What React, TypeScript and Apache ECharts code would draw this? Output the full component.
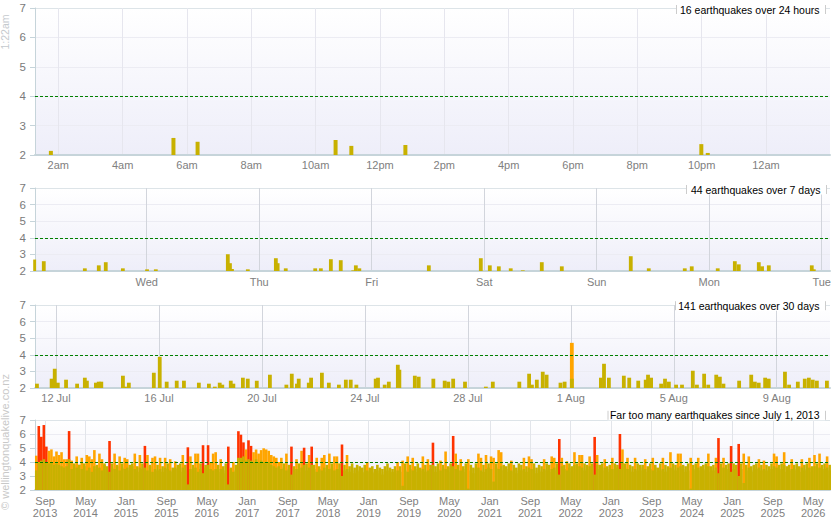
import React, { useEffect, useRef } from "react";
import * as echarts from "echarts";

const OLIVE = "#c8b100";
const ORANGE = "#ffa500";
const RED = "#ff3300";
const GREEN = "#008000";
const AXIS = "#c6d4da";
const FONT = '"Liberation Sans", Arial, sans-serif';

// ---- Panel 1: last 24 hours (x = hours since midnight of first day) ----
const dayTimes = [1.77, 5.58, 6.33, 10.62, 11.11, 12.79, 21.99, 22.19];
const dayMags = [2.14, 2.58, 2.45, 2.51, 2.31, 2.34, 2.37, 2.07];
const dayTickValues = [2, 4, 6, 8, 10, 12, 14, 16, 18, 20, 22, 24];
const dayTickLabels = ["2am", "4am", "6am", "8am", "10am", "12pm", "2pm", "4pm", "6pm", "8pm", "10pm", "12am"];

// ---- Panel 2: last 7 days (x = days since Tuesday 00:00) ----
const weekTimes = [0.0, 0.085, 0.45, 0.574, 0.636, 0.788, 1.003, 1.081, 1.721, 1.74, 1.758, 1.899, 2.148, 2.164, 2.236, 2.498, 2.548, 2.637, 2.725, 2.836, 2.859, 2.89, 3.508, 3.97, 4.05, 4.13, 4.236, 4.343, 4.512, 4.69, 5.303, 5.463, 5.783, 5.845, 6.076, 6.228, 6.263, 6.441, 6.47, 6.53, 6.912, 6.93];
const weekMags = [2.69, 2.59, 2.16, 2.34, 2.53, 2.16, 2.1, 2.1, 3.01, 2.47, 2.12, 2.1, 2.77, 2.47, 2.16, 2.16, 2.16, 2.71, 2.65, 2.04, 2.34, 2.16, 2.34, 2.77, 2.34, 2.28, 2.16, 2.04, 2.53, 2.28, 2.89, 2.16, 2.16, 2.28, 2.16, 2.59, 2.4, 2.53, 2.28, 2.34, 2.34, 2.1];
const weekTickValues = [1, 2, 3, 4, 5, 6, 7];
const weekTickLabels = ["Wed", "Thu", "Fri", "Sat", "Sun", "Mon", "Tue"];

// ---- Panel 3: last 30 days (x = day of July, Aug 1 = 32) ----
const monthTimes = [11.26, 11.83, 11.95, 12.07, 12.39, 12.82, 13.12, 13.2, 13.55, 13.66, 13.76, 14.6, 14.68, 14.83, 15.8, 16.03, 16.3, 16.69, 16.97, 17.55, 17.94, 18.17, 18.36, 18.46, 18.79, 18.89, 19.26, 19.45, 19.8, 20.31, 20.95, 21.16, 21.36, 21.43, 21.82, 21.91, 22.33, 22.6, 22.99, 23.26, 23.45, 23.67, 24.42, 24.51, 24.77, 24.93, 25.28, 25.34, 25.94, 26.09, 26.66, 27.1, 27.24, 27.43, 27.89, 28.7, 28.97, 30.0, 30.38, 30.49, 30.68, 30.91, 31.06, 31.6, 31.76, 32.04, 32.04, 33.17, 33.29, 33.48, 34.06, 34.27, 34.62, 34.91, 35.0, 35.12, 35.51, 35.66, 35.81, 36.09, 36.32, 36.74, 36.9, 37.18, 37.34, 37.65, 37.79, 37.93, 38.54, 39.01, 39.15, 39.3, 39.55, 39.69, 40.32, 40.48, 40.82, 41.09, 41.25, 41.4, 41.56, 41.95];
const monthMags = [2.26, 2.56, 3.16, 2.32, 2.5, 2.26, 2.62, 2.44, 2.32, 2.38, 2.38, 2.74, 2.08, 2.32, 2.92, 3.88, 2.38, 2.44, 2.44, 2.32, 2.26, 2.08, 2.32, 2.2, 2.44, 2.26, 2.62, 2.56, 2.44, 2.8, 2.2, 2.86, 2.26, 2.56, 2.32, 2.62, 2.92, 2.32, 2.2, 2.5, 2.5, 2.2, 2.56, 2.62, 2.2, 2.38, 3.4, 3.1, 2.74, 2.68, 2.56, 2.44, 2.38, 2.56, 2.38, 2.08, 2.38, 2.38, 2.86, 2.2, 2.5, 2.98, 2.8, 2.32, 2.38, 4.72, 2.56, 2.62, 3.46, 2.62, 2.74, 2.62, 2.44, 2.5, 2.8, 2.62, 2.26, 2.56, 2.38, 2.2, 2.2, 3.04, 2.2, 2.86, 2.2, 2.8, 2.68, 2.26, 2.44, 2.8, 2.38, 2.32, 2.62, 2.56, 2.98, 2.2, 2.38, 2.56, 2.62, 2.5, 2.44, 2.44];
const monthTickValues = [12, 16, 20, 24, 28, 32, 36, 40];
const monthTickLabels = ["12 Jul", "16 Jul", "20 Jul", "24 Jul", "28 Jul", "1 Aug", "5 Aug", "9 Aug"];

// ---- Panel 4: since July 1, 2013, half-month buckets (peak and typical level) ----
const longPeak = [
  4.45, 6.57, 5.8, 6.64, 5.1, 4.8, 4.9, 4.4, 4.75, 4.5, 4.7, 4.2,
  4.2, 6.21, 4.1, 3.9, 4.4, 3.8, 4.3, 3.9, 4.5, 4.4, 4.2, 4.85,
  3.8, 4.6, 4.2, 3.9, 3.7, 5.5, 3.9, 4.6, 3.8, 4.4, 3.9, 4.3,
  4.2, 3.8, 3.9, 4.6, 3.7, 4.5, 3.9, 5.15, 4.5, 3.8, 4.3, 4.4,
  3.8, 4.3, 3.7, 4.3, 3.9, 4.2, 3.6, 4.05, 3.8, 3.9, 4.5, 3.8,
  5.05, 4.4, 3.8, 4.6, 4.6, 3.9, 5.2, 3.8, 5.2, 4.0, 4.6, 4.7,
  3.8, 4.2, 3.7, 3.9, 5.1, 3.6, 4.0, 3.8, 6.2, 5.95, 5.4, 4.9,
  5.55, 5.15, 4.7, 4.9, 4.6, 4.85, 4.98, 4.9, 4.8, 4.5, 4.4, 4.3,
  4.0, 4.3, 3.9, 4.6, 3.8, 5.1, 3.7, 4.2, 3.9, 4.8, 5.02, 3.9,
  4.5, 5.1, 3.8, 4.3, 3.7, 4.3, 4.5, 3.8, 4.6, 3.9, 4.4, 4.4,
  3.9, 5.25, 3.8, 4.5, 3.7, 3.9, 3.6, 3.8, 3.7, 3.6, 3.8, 4.0,
  3.6, 3.7, 3.5, 3.8, 3.6, 3.5, 3.7, 3.9, 3.6, 3.5, 3.7, 4.0,
  3.7, 4.1, 3.9, 4.4, 3.8, 4.3, 3.7, 3.9, 3.6, 4.4, 3.8, 4.2,
  3.8, 5.38, 3.7, 3.9, 4.1, 3.8, 4.75, 3.7, 3.9, 5.86, 4.6, 3.8,
  4.2, 3.7, 3.9, 4.2, 3.8, 3.6, 3.9, 4.6, 4.3, 3.8, 4.5, 3.9,
  4.4, 4.3, 3.9, 4.85, 4.7, 3.8, 3.7, 3.9, 4.1, 3.8, 3.6, 3.9,
  3.8, 4.3, 3.7, 4.4, 4.2, 3.9, 3.6, 3.8, 3.7, 4.2, 3.9, 3.8,
  4.4, 4.3, 3.9, 5.64, 4.3, 3.8, 4.05, 3.9, 3.7, 4.7, 3.9, 4.5,
  4.5, 3.9, 3.8, 4.4, 3.9, 5.79, 4.5, 3.8, 3.9, 4.2, 3.7, 3.8,
  4.3, 3.9, 3.8, 6.0, 4.9, 3.9, 4.3, 3.8, 3.7, 4.3, 3.9, 3.8,
  3.8, 4.2, 3.7, 3.9, 4.3, 3.8, 3.6, 3.9, 4.3, 3.8, 3.7, 4.7,
  3.9, 3.8, 4.6, 4.6, 3.8, 3.7, 3.9, 4.3, 3.8, 3.9, 4.3, 3.7,
  3.8, 3.9, 4.6, 3.7, 3.8, 4.3, 5.71, 3.9, 4.3, 3.8, 3.9, 5.14,
  3.9, 3.8, 5.29, 3.9, 4.6, 3.8, 4.4, 3.7, 3.8, 3.9, 4.2, 3.8,
  4.1, 3.8, 3.7, 3.9, 4.6, 4.4, 3.8, 3.9, 4.7, 3.7, 3.8, 4.2,
  3.8, 3.9, 3.7, 4.2, 3.8, 3.9, 4.3, 3.7, 4.5, 3.9, 4.6, 3.8, 3.9, 4.4, 3.8,
];
const longBase = [
  3.4, 4.0, 4.1, 4.2, 4.0, 3.9, 4.0, 3.8, 3.9, 3.8, 3.7, 3.6,
  3.7, 4.2, 3.5, 3.8, 3.6, 3.8, 3.5, 3.7, 3.4, 3.6, 3.3, 3.7,
  3.5, 3.6, 3.4, 3.8, 3.3, 3.3, 3.6, 3.5, 3.7, 3.4, 3.6, 3.5,
  3.6, 3.4, 3.7, 3.5, 3.3, 3.6, 3.5, 3.6, 3.4, 3.7, 3.3, 3.5,
  3.4, 3.5, 3.3, 3.6, 3.5, 3.4, 3.3, 3.6, 3.5, 3.3, 3.6, 3.4,
  2.4, 3.5, 3.4, 3.6, 3.3, 3.5, 3.2, 3.6, 3.8, 3.5, 3.4, 3.5,
  3.3, 3.5, 3.2, 3.4, 2.4, 3.5, 3.3, 3.4, 4.3, 4.3, 4.4, 4.1,
  4.2, 4.1, 4.0, 4.2, 4.0, 4.1, 4.0, 3.9, 4.0, 3.8, 3.7, 3.6,
  3.7, 3.5, 3.6, 3.4, 3.5, 3.1, 3.3, 3.5, 3.3, 3.6, 3.8, 3.4,
  3.6, 3.8, 3.5, 3.3, 3.5, 3.4, 3.6, 3.3, 3.5, 3.6, 3.4, 3.5,
  3.5, 3.0, 3.4, 3.5, 3.3, 3.4, 3.2, 3.3, 3.4, 3.2, 3.3, 3.4,
  3.3, 3.2, 3.3, 3.4, 3.2, 3.1, 3.3, 3.4, 3.2, 3.3, 3.2, 3.4,
  3.3, 2.3, 3.4, 3.3, 3.5, 3.4, 3.3, 3.5, 3.4, 3.5, 3.3, 3.4,
  3.5, 3.8, 3.3, 3.5, 3.4, 3.6, 3.5, 3.3, 3.6, 3.7, 3.5, 3.4,
  3.4, 3.3, 3.5, 2.1, 3.4, 3.2, 3.5, 3.6, 3.4, 3.3, 3.5, 3.6,
  3.5, 2.6, 3.6, 3.5, 3.7, 3.4, 3.3, 3.5, 3.4, 3.3, 3.2, 3.4,
  3.4, 3.5, 3.3, 3.6, 3.5, 3.4, 3.2, 3.4, 3.3, 3.5, 3.4, 3.3,
  3.5, 3.6, 3.4, 3.1, 3.7, 3.5, 3.4, 3.6, 3.3, 3.8, 3.5, 3.7,
  3.6, 3.4, 3.5, 3.7, 3.6, 3.1, 3.8, 3.5, 3.4, 3.6, 3.3, 3.5,
  3.5, 3.4, 3.6, 3.5, 3.9, 3.6, 3.5, 3.4, 3.3, 3.5, 3.4, 3.6,
  3.4, 3.5, 3.3, 3.5, 3.4, 3.6, 3.3, 3.4, 3.5, 3.3, 3.4, 3.6,
  3.5, 3.4, 3.6, 3.7, 3.5, 3.3, 3.4, 2.1, 3.4, 3.5, 3.6, 3.4,
  3.4, 3.5, 3.7, 3.3, 3.4, 3.6, 3.2, 3.5, 3.6, 3.4, 3.5, 3.3,
  3.5, 3.4, 3.0, 3.5, 2.5, 3.4, 3.6, 3.3, 3.4, 3.5, 3.6, 3.4,
  3.5, 3.4, 3.3, 3.5, 3.7, 3.6, 3.4, 3.5, 3.8, 3.3, 3.4, 3.5,
  3.4, 3.5, 3.3, 3.6, 3.4, 3.5, 3.6, 3.3, 3.7, 3.5, 3.6, 3.4, 3.5, 3.6, 3.4,
];
// month index: 0 = Jan 2013, so Jul 2013 = 6; buckets are half months
const longStartMonth = 6;
const longTickValues = [8, 16, 24, 32, 40, 48, 56, 64, 72, 80, 88, 96, 104, 112, 120, 128, 136, 144, 152, 160];
const longTickLabels = ["Sep\n2013", "May\n2014", "Jan\n2015", "Sep\n2015", "May\n2016", "Jan\n2017", "Sep\n2017", "May\n2018", "Jan\n2019", "Sep\n2019", "May\n2020", "Jan\n2021", "Sep\n2021", "May\n2022", "Jan\n2023", "Sep\n2023", "May\n2024", "Jan\n2025", "Sep\n2025", "May\n2026"];

const panelTitles = ["16 earthquakes over 24 hours", "44 earthquakes over 7 days", "141 earthquakes over 30 days", "Far too many earthquakes since July 1, 2013"];
const nowLabel = "1:22am";
const credit = "© wellingtonquakelive.co.nz";

const magColor = (v: number) => (v >= 5 ? RED : v >= 4 ? ORANGE : OLIVE);

const gridBg = {
  type: "linear", x: 0, y: 0, x2: 0, y2: 1,
  colorStops: [{ offset: 0, color: "#ffffff" }, { offset: 1, color: "#eeeef9" }],
};

const mkGrid = (top: number, height: number) => ({
  left: 35, right: 5, top, height, show: true, borderWidth: 0, backgroundColor: gridBg,
});

const mkY = (gridIndex: number) => ({
  type: "value", gridIndex, min: 2, max: 7, interval: 1,
  axisLine: { show: true, lineStyle: { color: AXIS, width: 1 } },
  axisTick: { show: true, length: 5, lineStyle: { color: AXIS } },
  axisLabel: { color: "#7a7a7a", fontSize: 11.5, margin: 9, fontFamily: FONT },
  splitLine: { show: true, lineStyle: { color: [AXIS, "#ececf3", "#ececf3", "#ececf3", "#ececf3", "#dde4e8"] } },
});

const mkX = (gridIndex: number, min: number, max: number, values: number[], labels: string[], splitColor: string, margin: number) => ({
  type: "value", gridIndex, min, max,
  axisLine: { show: true, onZero: false, lineStyle: { color: AXIS, width: 2 } },
  axisTick: { show: false, customValues: values },
  axisLabel: {
    customValues: values,
    formatter: (v: number) => {
      const i = values.findIndex((x) => Math.abs(x - v) < 1e-6);
      return i >= 0 ? labels[i] : "";
    },
    color: "#808080", fontSize: 11, margin, lineHeight: 12, fontFamily: FONT,
  },
  splitLine: { show: true, lineStyle: { color: splitColor, width: 1 } },
});

const fourLine = {
  silent: true, symbol: "none", label: { show: false },
  lineStyle: { color: GREEN, type: [3, 2], width: 1 },
  data: [{ yAxis: 4 }],
};

const titleBox = (text: string, left: number, right: number, cy: number) => [
  { type: "rect", z: 100, silent: true, shape: { x: left, y: cy - 5, width: right - left, height: 10 }, style: { fill: "#ffffff" } },
  { type: "line", z: 101, silent: true, shape: { x1: left + 0.5, y1: cy - 4.5, x2: left + 0.5, y2: cy + 4.5 }, style: { stroke: "#cccccc", lineWidth: 1 } },
  { type: "line", z: 101, silent: true, shape: { x1: right + 0.5, y1: cy - 4.5, x2: right + 0.5, y2: cy + 4.5 }, style: { stroke: "#cccccc", lineWidth: 1 } },
  {
    type: "text", z: 102, silent: true, x: right - 5.5, y: cy,
    style: { text, fill: "#000000", font: `10.5px ${FONT}`, align: "right", verticalAlign: "middle", textAlign: "right", textVerticalAlign: "middle" },
  },
];

export default function App() {
  const ref = useRef<HTMLDivElement>(null);
  useEffect(() => {
    if (!ref.current) return;
    const chart = echarts.init(ref.current, null, { renderer: "svg" });
    const longX = longPeak.map((_, k) => longStartMonth + (k + 0.5) / 2);
    const option: any = {
      animation: false,
      backgroundColor: "#ffffff",
      textStyle: { fontFamily: FONT },
      grid: [mkGrid(8, 147), mkGrid(188, 83), mkGrid(305, 83), mkGrid(420, 70)],
      yAxis: [mkY(0), mkY(1), mkY(2), mkY(3)],
      xAxis: [
        mkX(0, 1.276, 25.99, dayTickValues, dayTickLabels, "#e6e6ee", 4),
        mkX(1, 0.007, 7.074, weekTickValues, weekTickLabels, "#d2d5dc", 5),
        mkX(2, 11.184, 42.07, monthTickValues, monthTickLabels, "#d2d5dc", 4),
        mkX(3, longStartMonth, 163.32, longTickValues, longTickLabels, "#e2e5ea", 5),
      ],
      series: [
        {
          type: "bar", xAxisIndex: 0, yAxisIndex: 0, barWidth: 4,
          data: dayTimes.map((t, i) => [t, dayMags[i]]),
          itemStyle: { color: (p: any) => magColor(p.value[1]) },
          markLine: fourLine,
        },
        {
          type: "bar", xAxisIndex: 1, yAxisIndex: 1, barWidth: 3.8,
          data: weekTimes.map((t, i) => [t, weekMags[i]]),
          itemStyle: { color: (p: any) => magColor(p.value[1]) },
          markLine: fourLine,
        },
        {
          type: "bar", xAxisIndex: 2, yAxisIndex: 2, barWidth: 3.8,
          data: monthTimes.map((t, i) => [t, monthMags[i]]),
          itemStyle: { color: (p: any) => magColor(p.value[1]) },
          markLine: fourLine,
        },
        {
          type: "bar", xAxisIndex: 3, yAxisIndex: 3, barWidth: 2.6, barGap: "-100%",
          data: longX.map((x, i) => [x, longPeak[i]]),
          itemStyle: { color: (p: any) => magColor(p.value[1]) },
        },
        {
          type: "bar", xAxisIndex: 3, yAxisIndex: 3, barWidth: 2.6, barGap: "-100%",
          data: longX.map((x, i) => [x, longBase[i]]),
          itemStyle: { color: OLIVE },
          markLine: fourLine,
        },
      ],
      graphic: [
        ...titleBox(panelTitles[0], 676, 825, 9.5),
        ...titleBox(panelTitles[1], 686, 826, 189.5),
        ...titleBox(panelTitles[2], 675, 825, 305.7),
        ...titleBox(panelTitles[3], 607.5, 825, 415.3),
        {
          type: "text", z: 102, silent: true, x: 5, y: 32, rotation: Math.PI / 2,
          style: { text: nowLabel, fill: "#c4c9ce", font: `10.5px ${FONT}`, align: "center", verticalAlign: "middle", textAlign: "center", textVerticalAlign: "middle" },
        },
        {
          type: "text", z: 102, silent: true, x: 5, y: 442, rotation: Math.PI / 2,
          style: { text: credit, fill: "#c8c8c8", font: `11px ${FONT}`, align: "center", verticalAlign: "middle", textAlign: "center", textVerticalAlign: "middle" },
        },
      ],
    };
    chart.setOption(option);
    return () => chart.dispose();
  }, []);
  return <div ref={ref} style={{ position: "fixed", left: 0, top: 0, width: 835, height: 530, background: "#fff" }} />;
}
